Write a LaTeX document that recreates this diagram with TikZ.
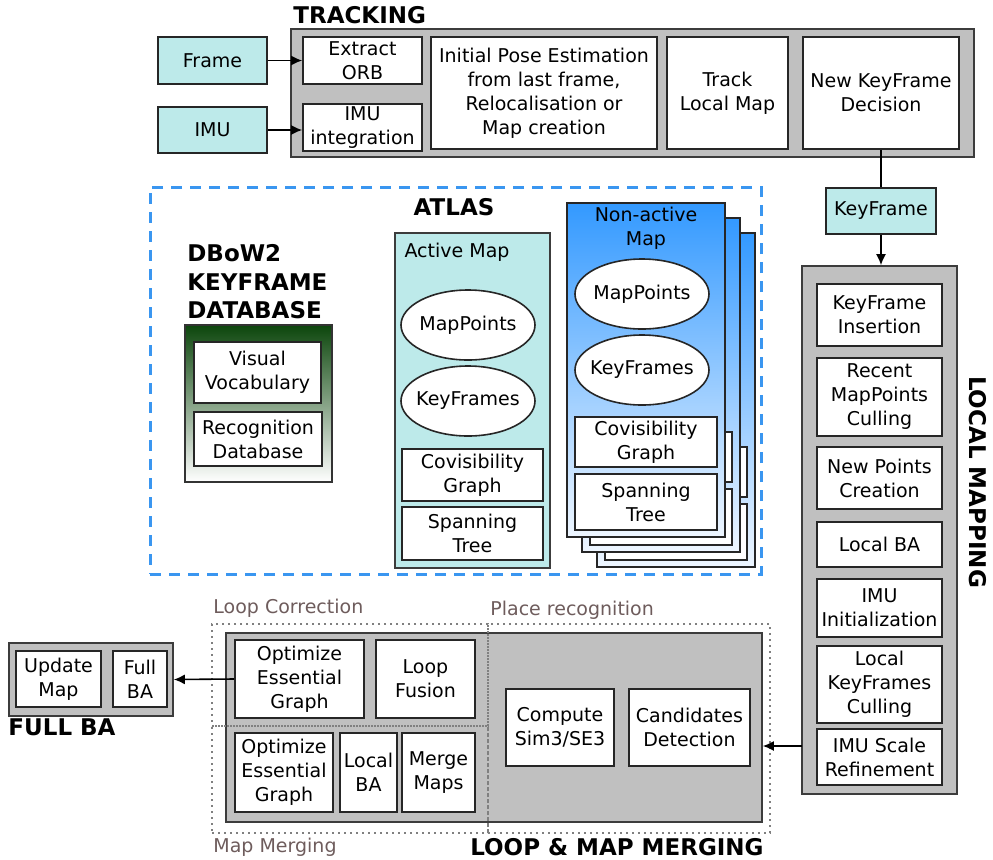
\documentclass[tikz,border=0pt]{standalone}
\usepackage{fontspec}
\setmainfont{DejaVu Sans}
\usetikzlibrary{positioning, arrows.meta, fit, shapes.geometric, shadings}
\definecolor{orbgrey}{RGB}{192,192,192}
\definecolor{orbdark}{RGB}{60,60,60}
\definecolor{orbcyan}{RGB}{189,234,234}
\definecolor{orbblue}{RGB}{51,153,255}
\definecolor{orbpale}{RGB}{238,246,255}
\definecolor{orbgreen}{RGB}{12,70,12}
\definecolor{orbdash}{RGB}{58,150,240}
\definecolor{orbtext}{RGB}{110,92,92}

\tikzset{
    panel/.style={draw=orbdark, line width=0.8pt, fill=orbgrey, inner sep=0pt},
    box/.style={draw=black!85, line width=0.8pt, fill=white, inner sep=0pt},
    input/.style={box, fill=orbcyan},
    boxtext/.style={align=center, inner sep=0pt, font=\fontsize{9.5}{12}\selectfont},
    blob/.style={ellipse, draw=black!85, line width=0.8pt, fill=white, inner sep=0pt, minimum width=67pt, minimum height=35pt},
    title/.style={font=\bfseries\fontsize{11.5}{14.2}\selectfont, align=left, inner sep=0pt},
    sublabel/.style={text=orbtext, font=\fontsize{9.5}{12}\selectfont, inner sep=0pt},
    zone/.style={draw=gray, line width=1pt, dotted},
    arr/.style={-{Latex[length=5.5pt, width=5pt]}, line width=0.8pt}
}

\begin{document}
\begin{tikzpicture}[x=0.5pt, y=-0.5pt]
        \useasboundingbox (0,0) rectangle (993,859);

        % tracking
        \node[panel, fit={(291,29) (974,157)}] (trk) {};
        \node[title, anchor=west] (trklabel) at (293,15) {TRACKING};
        \node[input, fit={(158,37) (267,84)}, label={[boxtext]center:Frame}] (frame) {};
        \node[input, fit={(158,107) (267,153)}, label={[boxtext]center:IMU}] (imu) {};
        \node[box, fit={(303,37) (422,84)}, label={[boxtext]center:Extract\\ORB}] (orb) {};
        \node[box, fit={(303,104) (422,151)}, label={[boxtext]center:IMU\\integration}] (imuint) {};
        \node[box, fit={(431,37) (657,149)}, label={[boxtext]center:Initial Pose Estimation\\from last frame,\\Relocalisation or\\Map creation}] (pose) {};
        \node[box, fit={(667,37) (788,149)}, label={[boxtext]center:Track\\Local Map}] (tlm) {};
        \node[box, fit={(803,37) (959,149)}, label={[boxtext]center:New KeyFrame\\Decision}] (nkf) {};

        % keyframe
        \node[input, fit={(826,188) (936,234)}, label={[boxtext]center:KeyFrame}] (kf) {};

        % local mapping
        \node[panel, fit={(802,266) (957,794)}] (lmap) {};
        \node[title, rotate=-90] (lmaplabel) at (978,482) {LOCAL MAPPING};
        \node[box, fit={(817,284) (942,346)}, label={[boxtext]center:KeyFrame\\Insertion}] (kfins) {};
        \node[box, fit={(817,358) (942,436)}, label={[boxtext]center:Recent\\MapPoints\\Culling}] (mpcull) {};
        \node[box, fit={(817,447) (942,509)}, label={[boxtext]center:New Points\\Creation}] (newpts) {};
        \node[box, fit={(817,522) (942,567)}, label={[boxtext]center:Local BA}] (lba1) {};
        \node[box, fit={(817,579) (942,637)}, label={[boxtext]center:IMU\\Initialization}] (imuinit) {};
        \node[box, fit={(817,646) (942,723)}, label={[boxtext]center:Local\\KeyFrames\\Culling}] (kfcull) {};
        \node[box, fit={(817,729) (942,785)}, label={[boxtext]center:IMU Scale\\Refinement}] (imusr) {};

        % atlas
        \node[draw=orbdash, line width=1.5pt, dash pattern=on 5.5pt off 4pt, inner sep=0pt, fit={(150,187) (761,574)}] (atlas) {};
        \node[title] (atlaslabel) at (454,207) {ATLAS};

        % keyframe database
        \node[title, anchor=west] (dblabel) at (187,282) {DBoW2\\KEYFRAME\\DATABASE};
        \node[draw=black!80, line width=0.8pt, top color=orbgreen, bottom color=white, inner sep=0pt, fit={(185,325) (332,482)}] (db) {};
        \node[box, fit={(194,342) (321,403)}, label={[boxtext]center:Visual\\Vocabulary}] (vocab) {};
        \node[box, fit={(194,412) (322,466)}, label={[boxtext]center:Recognition\\Database}] (recog) {};

        % active map
        \node[draw=orbdark, line width=0.8pt, fill=orbcyan, inner sep=0pt, fit={(395,233) (550,568)}] (amap) {};
        \node[boxtext] (amaplabel) at (457,252) {Active Map};
        \node[blob, label={[boxtext]center:MapPoints}] (amp) at (468,325) {};
        \node[blob, label={[boxtext]center:KeyFrames}] (akf) at (468,401) {};
        \node[box, fit={(402,449) (543,501)}, label={[boxtext]center:Covisibility\\Graph}] (acov) {};
        \node[box, fit={(402,507) (543,560)}, label={[boxtext]center:Spanning\\Tree}] (aspan) {};

        % non-active maps, back pages
        \foreach \d in {30,15}
        {
            \draw[draw=black!85, line width=0.8pt, top color=orbblue, bottom color=orbpale] (567+\d,203+\d) rectangle (725+\d,537+\d);
            \draw[draw=black!85, line width=0.8pt, fill=white] (575+\d,417+\d) rectangle (717+\d,467+\d);
            \draw[draw=black!85, line width=0.8pt, fill=white] (575+\d,474+\d) rectangle (717+\d,530+\d);
        }
        % non-active map, front page
        \node[draw=black!85, line width=0.8pt, top color=orbblue, bottom color=orbpale, inner sep=0pt, fit={(567,203) (725,537)}] (nmap) {};
        \node[boxtext] (nmaplabel) at (646,228) {Non-active\\Map};
        \node[blob, label={[boxtext]center:MapPoints}] (nmp) at (642,294) {};
        \node[blob, label={[boxtext]center:KeyFrames}] (nkfs) at (642,370) {};
        \node[box, fit={(575,417) (717,467)}, label={[boxtext]center:Covisibility\\Graph}] (ncov) {};
        \node[box, fit={(575,474) (717,530)}, label={[boxtext]center:Spanning\\Tree}] (nspan) {};

        % full BA
        \node[panel, fit={(9,643) (173,716)}] (fba) {};
        \node[box, fit={(16,651) (101,707)}, label={[boxtext]center:Update\\Map}] (upd) {};
        \node[box, fit={(113,651) (167,707)}, label={[boxtext]center:Full\\BA}] (fullba) {};
        \node[title] (fbalabel) at (62,727) {FULL BA};

        % loop and map merging
        \node[panel, fit={(226,633) (762,822)}] (lmm) {};
        \node[zone, fit={(212,624) (488,726)}, inner sep=0pt] (loopz) {};
        \node[zone, fit={(212,726) (488,833)}, inner sep=0pt] (mergez) {};
        \node[zone, fit={(488,624) (770,833)}, inner sep=0pt] (placez) {};
        \node[sublabel, anchor=west] (looplabel) at (213,608) {Loop Correction};
        \node[sublabel, anchor=west] (placelabel) at (490,610) {Place recognition};
        \node[sublabel, anchor=west] (mergelabel) at (213,847) {Map Merging};
        \node[title, anchor=east] (lmmlabel) at (764,847) {LOOP \& MAP MERGING};
        \node[box, fit={(235,640) (364,718)}, label={[boxtext]center:Optimize\\Essential\\Graph}] (oeg1) {};
        \node[box, fit={(376,640) (475,718)}, label={[boxtext]center:Loop\\Fusion}] (fusion) {};
        \node[box, fit={(235,733) (333,812)}, label={[boxtext]center:Optimize\\Essential\\Graph}] (oeg2) {};
        \node[box, fit={(340,733) (397,812)}, label={[boxtext]center:Local\\BA}] (lba2) {};
        \node[box, fit={(402,733) (475,812)}, label={[boxtext]center:Merge\\Maps}] (mergemaps) {};
        \node[box, fit={(506,689) (614,766)}, label={[boxtext]center:Compute\\Sim3/SE3}] (sim3) {};
        \node[box, fit={(629,689) (750,766)}, label={[boxtext]center:Candidates\\Detection}] (cand) {};

        % connections
        \draw[arr] (frame) -- (orb);
        \draw[arr] (imu.east) -- (imu.east -| imuint.west);
        \draw[line width=0.8pt] (nkf.south) -- (nkf.south |- kf.north);
        \draw[arr] (kf) -- (kf |- lmap.north);
        \coordinate (lmport) at (802,746);
        \draw[arr] (lmport) -- (lmport -| lmm.east);
        \draw[arr] (oeg1.west) -- (fba.east);
\end{tikzpicture}
\end{document}
